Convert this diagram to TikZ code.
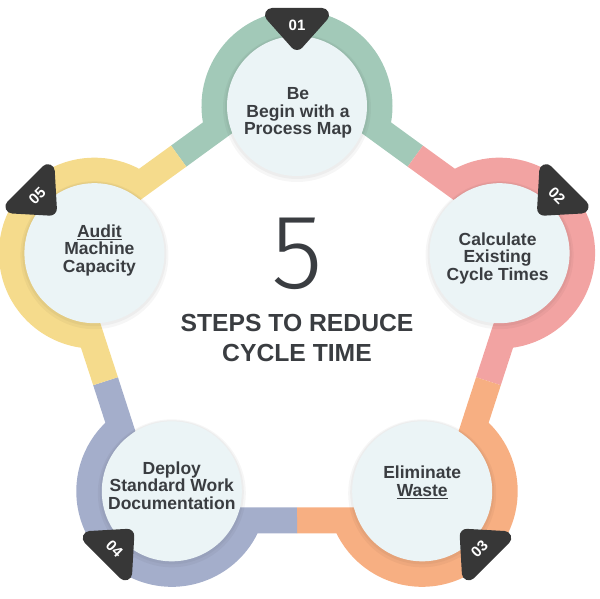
\documentclass[tikz,border=0pt]{standalone}
\usepackage{fontspec}
\setmainfont{Liberation Sans}
\newfontfamily\fivefont{Fira Sans Light}
\usetikzlibrary{calc}
\definecolor{cgreen}{HTML}{A2C9B8}
\definecolor{cpink}{HTML}{F2A3A2}
\definecolor{corange}{HTML}{F7AF82}
\definecolor{cblue}{HTML}{A4AECB}
\definecolor{cyellow}{HTML}{F5DB8C}
\definecolor{cdisc}{HTML}{EBF4F6}
\definecolor{cbadge}{HTML}{373737}
\definecolor{ctext}{HTML}{3A3D41}
\begin{document}
\begin{tikzpicture}[x=1pt,y=1pt,
  band/.style={line width=26pt, line join=miter, line cap=butt},
  disc/.style={fill=cdisc},
  steptext/.style={text=ctext, font=\bfseries\fontsize{17.5}{17.5}\selectfont, align=center},
  titletext/.style={text=ctext, font=\bfseries\fontsize{24.7}{30}\selectfont, anchor=base},
  badgetri/.style={fill=cbadge, draw=cbadge, line width=14pt, line join=round},
  badgenum/.style={text=white, font=\bfseries\fontsize{15}{15}\selectfont}]
\useasboundingbox (0,0) rectangle (600,598);
\coordinate (C) at (297,279);
\foreach \n/\a in {1/90,2/18,3/-54,4/-126,5/162} { \coordinate (V\n) at ($(C)+(\a:213)$); }
\coordinate (M12) at ($(C)+(54:201.3)$);
\coordinate (M23) at ($(C)+(-18:201.3)$);
\coordinate (M34) at ($(C)+(-90:201.3)$);
\coordinate (M45) at ($(C)+(198:201.3)$);
\coordinate (M51) at ($(C)+(126:201.3)$);
% coloured bands
\draw[band, cgreen] (M51) -- ($(V1)+(195.4:82.5)$) arc[start angle=195.4, end angle=-15.4, radius=82.5] -- (M12);
\draw[band, cpink] (M12) -- ($(V2)+(123.4:82.5)$) arc[start angle=123.4, end angle=-87.4, radius=82.5] -- (M23);
\draw[band, corange] (M23) -- ($(V3)+(51.4:82.5)$) arc[start angle=51.4, end angle=-159.4, radius=82.5] -- (M34);
\draw[band, cblue] (M34) -- ($(V4)+(-20.6:82.5)$) arc[start angle=-20.6, end angle=-231.4, radius=82.5] -- (M45);
\draw[band, cyellow] (M45) -- ($(V5)+(267.4:82.5)$) arc[start angle=267.4, end angle=56.6, radius=82.5] -- (M51);
% discs
\foreach \n in {1,...,5} {
  \fill[black,opacity=0.035] ($(V\n)+(0,-2)$) circle (74);
  \fill[black,opacity=0.035] ($(V\n)+(0,-1)$) circle (72);
  \fill[disc] (V\n) circle (70);
}
% badges
\foreach \n/\a/\r/\num in {1/90/0/01, 2/45/0/02, 3/-45/180/03, 4/-135/180/04, 5/135/0/05} {
  \begin{scope}[shift={(V\n)}, rotate=\a-90]
    \filldraw[badgetri] (-25,91) -- (25,91) -- (0,63) -- cycle;
    \node[badgenum, rotate=\r, transform shape] (b\n) at (0,81) {\num};
  \end{scope}
}
% step texts
\node[steptext] (t1) at ($(V1)+(1,-7)$) {Be\\Begin with a\\Process Map};
\node[steptext] (t2) at ($(V2)+(-2,-5)$) {Calculate\\Existing\\Cycle Times};
\node[steptext] (t3) at ($(V3)+(0,9)$) {Eliminate\\\underline{Waste}};
\node[steptext] (t4) at ($(V4)+(0,6)$) {Deploy\\Standard Work\\Documentation};
\node[steptext] (t5) at ($(V5)+(5,3)$) {\underline{Audit}\\Machine\\Capacity};
% centre title
\node[text=ctext, font=\fivefont\fontsize{106}{106}\selectfont] (five) at (297,344.5) {5};
\node[titletext] (title1) at (297,266.1) {STEPS TO REDUCE};
\node[titletext] (title2) at (297,236.1) {CYCLE TIME};
\end{tikzpicture}
\end{document}
